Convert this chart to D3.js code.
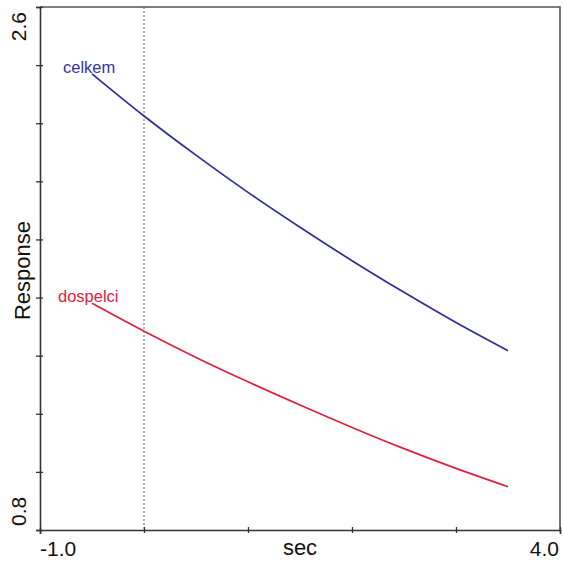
<!DOCTYPE html>
<html>
<head>
<meta charset="utf-8">
<script src="https://cdn.jsdelivr.net/npm/d3@7"></script>
<style>
  html, body { margin: 0; padding: 0; background: #fff; }
  svg { display: block; font-family: "Liberation Sans", Arial, sans-serif; }
</style>
</head>
<body>
<div id="chart"></div>
<script>
// ---- data ----
const secValues = [-0.5, 0, 0.5, 1, 1.5, 2, 2.5, 3, 3.5];
const celkem    = [2.37, 2.225, 2.09, 1.962, 1.842, 1.727, 1.618, 1.514, 1.417];
const dospelci  = [1.58, 1.484, 1.394, 1.31, 1.230, 1.153, 1.080, 1.012, 0.949];
const seriesNames = ["celkem", "dospelci"];
const xTicks = [-1, 0, 1, 2, 3, 4];
const yTicks = [0.8, 1.0, 1.2, 1.4, 1.6, 1.8, 2.0, 2.2, 2.4, 2.6];
const xTickLabels = ["-1.0", "4.0"];
const yTickLabels = ["0.8", "2.6"];
const xDomain = [-1, 4];
const yDomain = [0.8, 2.6];
const refLine = 0;

const W = 563, H = 562;
const m = { left: 40, right: 3, top: 7, bottom: 32 };

const svg = d3.select("#chart").append("svg").attr("width", W).attr("height", H);

const x = d3.scaleLinear().domain(xDomain).range([m.left, W - m.right]);
const y = d3.scaleLinear().domain(yDomain).range([H - m.bottom, m.top]);

const x0 = x.range()[0], x1 = x.range()[1];
const yb = y.range()[0], yt = y.range()[1];

// frame (top & right)
svg.append("path")
  .attr("d", `M${x0},${yt}H${x1}V${yb}`)
  .attr("fill", "none").attr("stroke", "#555").attr("stroke-width", 1.6);

// dotted reference line
svg.append("line")
  .attr("x1", x(refLine)).attr("x2", x(refLine))
  .attr("y1", yt).attr("y2", yb)
  .attr("stroke", "#666").attr("stroke-width", 1).attr("stroke-dasharray", "2,2");

// axes
const xAxis = d3.axisBottom(x).tickValues(xTicks).tickSize(4).tickFormat("");
const yAxis = d3.axisLeft(y).tickValues(yTicks).tickSize(4).tickFormat("");

const gx = svg.append("g").attr("transform", `translate(0,${yb})`).call(xAxis);
gx.select(".domain").attr("stroke", "#333").attr("stroke-width", 1.6);
gx.selectAll(".tick line").attr("stroke", "#333").attr("y1", -3).attr("y2", 3).attr("stroke-width", 1.3);

const gy = svg.append("g").attr("transform", `translate(${x0},0)`).call(yAxis);
gy.select(".domain").attr("stroke", "#333").attr("stroke-width", 1.6);
gy.selectAll(".tick line").attr("stroke", "#333").attr("x1", -4).attr("x2", 3).attr("stroke-width", 1.3);

// tick end labels
svg.append("text").attr("x", x(xDomain[0])).attr("y", 556)
  .attr("font-size", 21).attr("fill", "#111").attr("text-anchor", "start").text(xTickLabels[0]);
svg.append("text").attr("x", x(xDomain[1]) - 1).attr("y", 556)
  .attr("font-size", 21).attr("fill", "#111").attr("text-anchor", "end").text(xTickLabels[1]);

svg.append("text").attr("transform", `translate(26,${y(yDomain[0]) - 4}) rotate(-90)`)
  .attr("font-size", 21).attr("fill", "#111").attr("text-anchor", "start").text(yTickLabels[0]);
svg.append("text").attr("transform", `translate(26,${y(yDomain[1]) + 5}) rotate(-90)`)
  .attr("font-size", 21).attr("fill", "#111").attr("text-anchor", "end").text(yTickLabels[1]);

// axis titles
svg.append("text").attr("x", (x0 + x1) / 2).attr("y", 555)
  .attr("font-size", 22).attr("fill", "#111").attr("text-anchor", "middle").text("sec");
svg.append("text").attr("transform", `translate(30,${(yt + yb) / 2 + 2}) rotate(-90)`)
  .attr("font-size", 22).attr("fill", "#111").attr("text-anchor", "middle").text("Response");

// lines
const line = d3.line().x((d, i) => x(secValues[i])).y(d => y(d)).curve(d3.curveCatmullRom);
const colors = ["#2e2e9a", "#e0203f"];
[celkem, dospelci].forEach((s, k) => {
  svg.append("path").attr("d", line(s))
    .attr("fill", "none").attr("stroke", colors[k]).attr("stroke-width", 1.7);
});

// series labels
svg.append("text").attr("x", 63).attr("y", 73).attr("font-size", 16.5)
  .attr("fill", "#3333a6").text(seriesNames[0]);
svg.append("text").attr("x", 58).attr("y", 302).attr("font-size", 16.5)
  .attr("fill", "#e0203f").text(seriesNames[1]);
</script>
</body>
</html>
